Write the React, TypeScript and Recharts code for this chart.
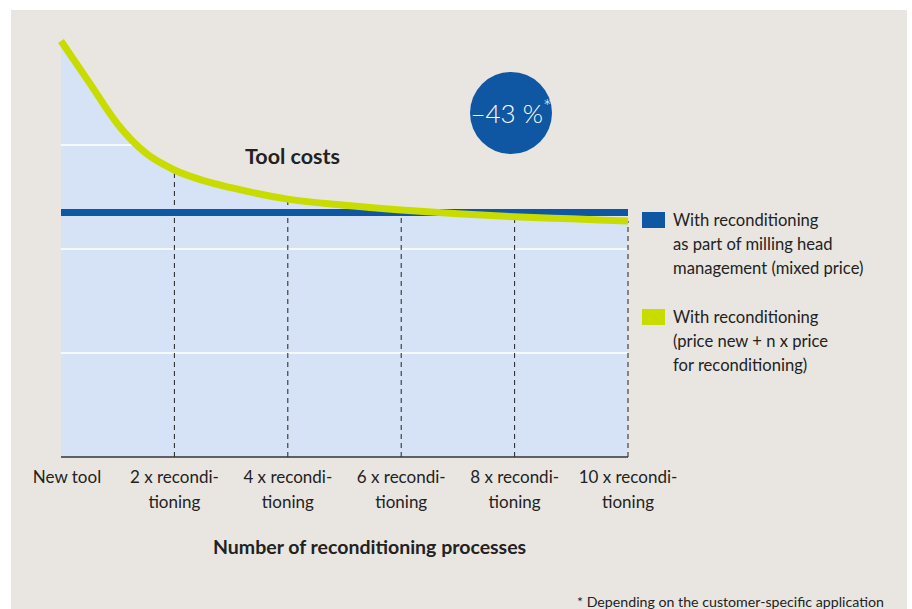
import React from "react";
import {
  ComposedChart,
  Area,
  Line,
  XAxis,
  YAxis,
  ReferenceLine,
} from "recharts";

// reconditioning count (x) and relative tool cost (y)
const steps = [0, 0.5, 1, 1.5, 2, 2.5, 3, 4, 5, 6, 7, 8, 9, 10];
const reconditionCost = [4.0, 3.6, 3.2, 2.92, 2.76, 2.66, 2.59, 2.48, 2.42, 2.375, 2.34, 2.31, 2.29, 2.27];
const mixedPrice = [2.35, 2.35, 2.35, 2.35, 2.35, 2.35, 2.35, 2.35, 2.35, 2.35, 2.35, 2.35, 2.35, 2.35];

const tickValues = [0, 2, 4, 6, 8, 10];
const tickTop = ["New tool", "2 x recondi-", "4 x recondi-", "6 x recondi-", "8 x recondi-", "10 x recondi-"];
const tickBottom = ["", "tioning", "tioning", "tioning", "tioning", "tioning"];

// horizontal grid values and where each one meets the curve
const gridValues = [1, 2, 3];
const gridEnds = [10, 10, 1.27];

const legendBlue = ["With reconditioning", "as part of milling head", "management (mixed price)"];
const legendGreen = ["With reconditioning", "(price new + n x price", "for reconditioning)"];

const BLUE = "#0f57a3";
const GREEN = "#c8dc00";
const FILL = "#d6e2f5";
const FONT = "Lato, 'Open Sans', sans-serif";

const data = steps.map((n, i) => ({
  n,
  green: reconditionCost[i],
  blue: mixedPrice[i],
}));

const XTick = (props: any) => {
  const { x, y, payload } = props;
  const i = tickValues.indexOf(payload.value);
  return (
    <g transform={`translate(${x + (i === 0 ? 6 : 0)},${y})`}>
      <text textAnchor="middle" fontFamily={FONT} fontSize={17} fill="#222">
        <tspan x={0} y={18}>{tickTop[i]}</tspan>
        <tspan x={0} y={43}>{tickBottom[i]}</tspan>
      </text>
    </g>
  );
};

const LegendBlock = ({ color, lines, top }: { color: string; lines: string[]; top: number }) => (
  <div style={{ position: "absolute", left: 642, top }}>
    <div style={{ position: "absolute", left: 0, top: 0, width: 23, height: 16, background: color }} />
    {lines.map((t, i) => (
      <div
        key={i}
        style={{
          position: "absolute",
          left: 31,
          top: -4 + i * 24,
          whiteSpace: "nowrap",
          fontFamily: FONT,
          fontSize: 16.6,
          lineHeight: "24px",
          color: "#222",
        }}
      >
        {t}
      </div>
    ))}
  </div>
);

export default function App() {
  return (
    <div style={{ position: "absolute", left: 0, top: 0, width: 912, height: 609, background: "#fff", overflow: "hidden" }}>
      <div style={{ position: "absolute", left: 11, top: 10, width: 896, height: 599, background: "#e9e6e1" }} />
      <div style={{ position: "absolute", left: 0, top: 0 }}>
        <ComposedChart
          width={912}
          height={609}
          data={data}
          margin={{ top: 27, right: 284, left: 61, bottom: 92 }}
        >
          <XAxis
            dataKey="n"
            type="number"
            domain={[0, 10]}
            ticks={tickValues}
            tick={<XTick />}
            tickLine={false}
            axisLine={{ stroke: "#333", strokeWidth: 1.5 }}
            height={60}
            interval={0}
          />
          <YAxis
            type="number"
            domain={[0, 4.135]}
            tick={false}
            tickLine={false}
            axisLine={{ stroke: "#333", strokeWidth: 1.5 }}
            width={0}
          />
          <Area
            type="monotone"
            dataKey="green"
            stroke="none"
            fill={FILL}
            fillOpacity={1}
            isAnimationActive={false}
          />
          {gridValues.map((v, i) => (
            <ReferenceLine
              key={`g${v}`}
              segment={[{ x: 0, y: v }, { x: gridEnds[i], y: v }]}
              stroke="#fff"
              strokeWidth={1.5}
            />
          ))}
          {tickValues.slice(1).map((v) => (
            <ReferenceLine
              key={`d${v}`}
              segment={[{ x: v, y: 0 }, { x: v, y: reconditionCost[steps.indexOf(v)] }]}
              stroke="#222"
              strokeWidth={1}
              strokeDasharray="5 4"
            />
          ))}
          <Line
            type="linear"
            dataKey="blue"
            stroke={BLUE}
            strokeWidth={7}
            dot={false}
            isAnimationActive={false}
          />
          <Line
            type="monotone"
            dataKey="green"
            stroke={GREEN}
            strokeWidth={7}
            dot={false}
            isAnimationActive={false}
          />
        </ComposedChart>
      </div>

      <div
        style={{
          position: "absolute",
          left: 245,
          top: 143,
          fontFamily: FONT,
          fontWeight: 700,
          fontSize: 21.5,
          color: "#222",
          whiteSpace: "nowrap",
        }}
      >
        Tool costs
      </div>

      <div
        style={{
          position: "absolute",
          left: 470,
          top: 72,
          width: 82,
          height: 82,
          borderRadius: "50%",
          background: BLUE,
          color: "#fff",
          fontFamily: FONT,
          fontWeight: 300,
          fontSize: 26,
          display: "flex",
          alignItems: "center",
          justifyContent: "center",
          whiteSpace: "nowrap",
        }}
      >
        <span>
          –43 %<sup style={{ fontSize: 20, verticalAlign: "top", lineHeight: "18px" }}>*</sup>
        </span>
      </div>

      <LegendBlock color={BLUE} lines={legendBlue} top={212} />
      <LegendBlock color={GREEN} lines={legendGreen} top={309} />

      <div
        style={{
          position: "absolute",
          left: 213,
          top: 535,
          fontFamily: FONT,
          fontWeight: 700,
          fontSize: 19.5,
          color: "#222",
          whiteSpace: "nowrap",
        }}
      >
        Number of reconditioning processes
      </div>

      <div
        style={{
          position: "absolute",
          left: 577,
          top: 593,
          fontFamily: FONT,
          fontSize: 14.2,
          color: "#222",
          whiteSpace: "nowrap",
        }}
      >
        * Depending on the customer-specific application
      </div>
    </div>
  );
}
